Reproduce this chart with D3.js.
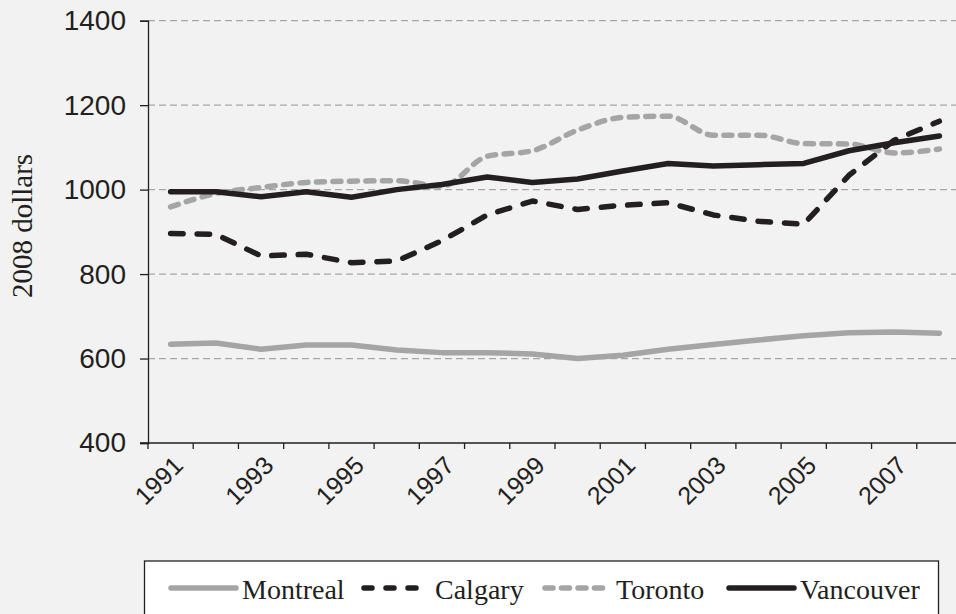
<!DOCTYPE html>
<html>
<head>
<meta charset="utf-8">
<script src="https://cdn.jsdelivr.net/npm/d3@7"></script>
<style>
  html, body { margin: 0; padding: 0; background: #f2f2f2; }
  svg { display: block; }
</style>
</head>
<body>
<div id="chart"></div>
<script>
// data, 2008 dollars
const years = ["1991","1992","1993","1994","1995","1996","1997","1998","1999",
               "2000","2001","2002","2003","2004","2005","2006","2007","2008"];
const tickYears = ["1991","1993","1995","1997","1999","2001","2003","2005","2007"];
const yTicks = [400, 600, 800, 1000, 1200, 1400];

const montreal  = [634, 637, 622, 632, 632, 620, 614, 614, 611, 600, 608, 622, 633, 644, 654, 661, 663, 660];
const calgary   = [896, 894, 843, 847, 827, 831, 879, 940, 973, 953, 963, 969, 940, 925, 918, 1034, 1117, 1162];
const toronto   = [959, 991, 1005, 1017, 1020, 1021, 1008, 1079, 1092, 1141, 1171, 1174, 1129, 1129, 1109, 1108, 1087, 1096];
const vancouver = [995, 995, 983, 995, 982, 1000, 1012, 1030, 1017, 1025, 1044, 1062, 1056, 1059, 1062, 1092, 1111, 1127];

const series = [
    { name: "Montreal",  values: montreal,  color: "#a5a5a5", dash: null,      width: 5.5, curve: d3.curveLinear },
    { name: "Calgary",   values: calgary,   color: "#231f20", dash: "12.5,14", width: 5.5, curve: d3.curveLinear },
    { name: "Toronto",   values: toronto,   color: "#a5a5a5", dash: "8,8.5",   width: 5.5, curve: d3.curveMonotoneX },
    { name: "Vancouver", values: vancouver, color: "#231f20", dash: null,      width: 5.5, curve: d3.curveLinear }
];

const width = 956, height = 614;
const svg = d3.select("#chart").append("svg")
    .attr("width", width)
    .attr("height", height);

const x = d3.scaleBand().domain(years).range([148, 962]);
const y = d3.scaleLinear().domain([400, 1400]).range([443, 20.7]);

// gridlines
svg.append("g")
    .selectAll("line")
    .data(yTicks.filter(d => d > 400))
    .enter().append("line")
    .attr("x1", 148).attr("x2", 962)
    .attr("y1", d => y(d)).attr("y2", d => y(d))
    .attr("stroke", "#a6a6a6")
    .attr("stroke-width", 1.2)
    .attr("stroke-dasharray", "7,4");

// y axis
const yAxis = svg.append("g")
    .attr("transform", "translate(148,0)")
    .call(d3.axisLeft(y).tickValues(yTicks).tickSize(8).tickPadding(14).tickFormat(d3.format("d")));
yAxis.select(".domain").attr("stroke", "#231f20").attr("stroke-width", 1.3);
yAxis.selectAll(".tick line").attr("stroke", "#231f20").attr("stroke-width", 1.3);
yAxis.selectAll("text")
    .attr("fill", "#231f20")
    .style("font-family", "'Liberation Sans', Arial, sans-serif")
    .style("font-size", "28px");

// x axis: ticks on band boundaries
const xAxisG = svg.append("g");
xAxisG.append("line")
    .attr("x1", 140).attr("x2", 962)
    .attr("y1", 443).attr("y2", 443)
    .attr("stroke", "#231f20").attr("stroke-width", 1.5);
xAxisG.selectAll("line.tick")
    .data(years)
    .enter().append("line")
    .attr("class", "tick")
    .attr("x1", d => x(d)).attr("x2", d => x(d))
    .attr("y1", 443).attr("y2", 449)
    .attr("stroke", "#231f20").attr("stroke-width", 1.3);
xAxisG.selectAll("text")
    .data(tickYears)
    .enter().append("text")
    .attr("transform", d => `translate(${x(d) + x.bandwidth() / 2 + 14},${467}) rotate(-45)`)
    .attr("text-anchor", "end")
    .attr("fill", "#231f20")
    .style("font-family", "'Liberation Sans', Arial, sans-serif")
    .style("font-size", "25px")
    .text(d => d);

// y axis title
svg.append("text")
    .attr("transform", "translate(32,226) rotate(-90)")
    .attr("text-anchor", "middle")
    .attr("fill", "#231f20")
    .style("font-family", "'Liberation Serif', 'Times New Roman', serif")
    .style("font-size", "29px")
    .text("2008 dollars");

// lines
series.forEach(s => {
    const line = d3.line()
        .x((d, i) => x(years[i]) + x.bandwidth() / 2)
        .y(d => y(d))
        .curve(s.curve);
    svg.append("path")
        .datum(s.values)
        .attr("d", line)
        .attr("fill", "none")
        .attr("stroke", s.color)
        .attr("stroke-width", s.width)
        .attr("stroke-linejoin", "round")
        .attr("stroke-linecap", "round")
        .attr("stroke-dasharray", s.dash);
});

// legend
const legend = svg.append("g");
legend.append("rect")
    .attr("x", 144.5).attr("y", 561)
    .attr("width", 794).attr("height", 80)
    .attr("fill", "#ffffff")
    .attr("stroke", "#231f20")
    .attr("stroke-width", 1.3);

const legendX = [169, 362, 543, 727];
series.forEach((s, i) => {
    const lx = legendX[i];
    legend.append("line")
        .attr("x1", lx + 2).attr("x2", lx + 67)
        .attr("y1", 588).attr("y2", 588)
        .attr("stroke", s.color)
        .attr("stroke-width", s.width)
        .attr("stroke-linecap", "round")
        .attr("stroke-dasharray", s.name === "Calgary" ? "8,14" : s.dash);
    legend.append("text")
        .attr("x", lx + 73).attr("y", 599)
        .attr("fill", "#231f20")
        .style("font-family", "'Liberation Serif', 'Times New Roman', serif")
        .style("font-size", "28px")
        .text(s.name);
});
</script>
</body>
</html>
